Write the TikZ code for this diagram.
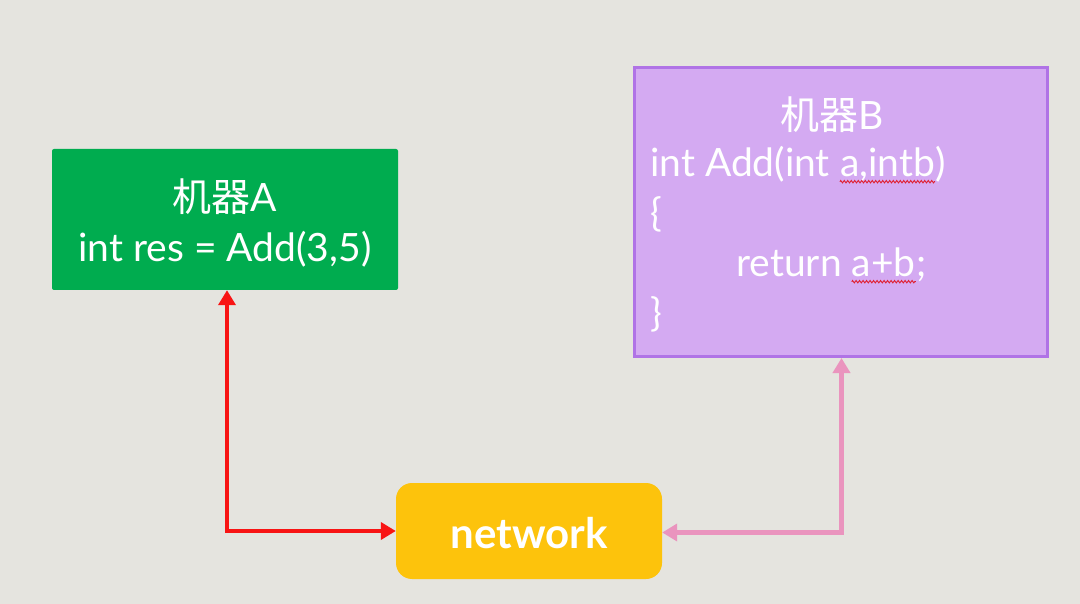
\documentclass[tikz,border=0pt]{standalone}
\usepackage{fontspec}
\setmainfont{Lato}
\newfontfamily\cjk{Noto Sans CJK SC}
\usetikzlibrary{arrows.meta,decorations.pathmorphing}
\definecolor{bg}{HTML}{E5E4DF}
\definecolor{boxgreen}{HTML}{00AC4F}
\definecolor{boxpurple}{HTML}{D4AAF2}
\definecolor{purpleedge}{HTML}{B073E6}
\definecolor{boxyellow}{HTML}{FDC30C}
\definecolor{arrowred}{HTML}{F81414}
\definecolor{arrowpink}{HTML}{EA94BE}
\definecolor{squiggle}{HTML}{E02030}
\tikzset{
  x=1pt, y=-1pt,
  txt/.style={text=white, inner sep=0pt, anchor=base, font=\fontsize{39}{44}\selectfont},
  codetxt/.style={txt, anchor=base west},
  redarrow/.style={draw=arrowred, line width=4.5pt, {Triangle[length=15pt,width=17pt]}-{Triangle[length=15pt,width=17pt]}},
  pinkarrow/.style={draw=arrowpink, line width=4.5pt, {Triangle[length=15pt,width=17pt]}-{Triangle[length=15pt,width=17pt]}},
  spell/.style={draw=squiggle, line width=0.9pt, decorate, decoration={zigzag, amplitude=1.2pt, segment length=3.5pt}}
}
\begin{document}
\begin{tikzpicture}
\fill[bg] (0,0) rectangle (1080,604);
\useasboundingbox (0,0) rectangle (1080,604);

% machine A
\node[fill=boxgreen, rounded corners=2pt, minimum width=346pt, minimum height=141pt, inner sep=0pt] (A) at (225,219.5) {};
\node[txt] (At) at (225,211.7) {{\cjk 机器}A};
\node[txt] (Ac) at (225,261.7) {int res = Add(3,5)};

% machine B
\node[fill=boxpurple, draw=purpleedge, line width=3pt, minimum width=413pt, minimum height=289pt, inner sep=0pt] (B) at (841,212) {};
\node[txt] (Bt) at (832,130) {{\cjk 机器}B};
\node[codetxt] (B1) at (650,176.7) {int Add(int\kern0.25em};
\node[codetxt] (B1u) at (B1.base east) {a,intb};
\node[codetxt] (B1e) at (B1u.base east) {)};
\node[codetxt] (B2) at (650,226.7) {\{};
\node[codetxt] (B3) at (736,276.7) {return\kern0.25em};
\node[codetxt] (B3u) at (B3.base east) {a+b};
\node[codetxt] (B3e) at (B3u.base east) {;};
\node[codetxt] (B4) at (650,326.7) {\}};
\draw[spell] ([yshift=-5pt]B1u.base west) -- ([yshift=-5pt]B1u.base east);
\draw[spell] ([yshift=-5pt]B3u.base west) -- ([yshift=-5pt]B3u.base east);

% network
\node[fill=boxyellow, rounded corners=16pt, minimum width=266pt, minimum height=96pt, inner sep=0pt] (N) at (529,531) {};
\node[txt, font=\fontsize{42}{46}\selectfont\bfseries] (Nt) at (529,548.3) {network};

% connectors
\coordinate (rc) at (227,531);
\coordinate (pc) at (841.5,532.5);
\draw[redarrow] (A.south -| rc) -- (rc) -- (N.west |- rc);
\draw[pinkarrow] (B.south -| pc) -- (pc) -- (N.east |- pc);
\end{tikzpicture}
\end{document}
